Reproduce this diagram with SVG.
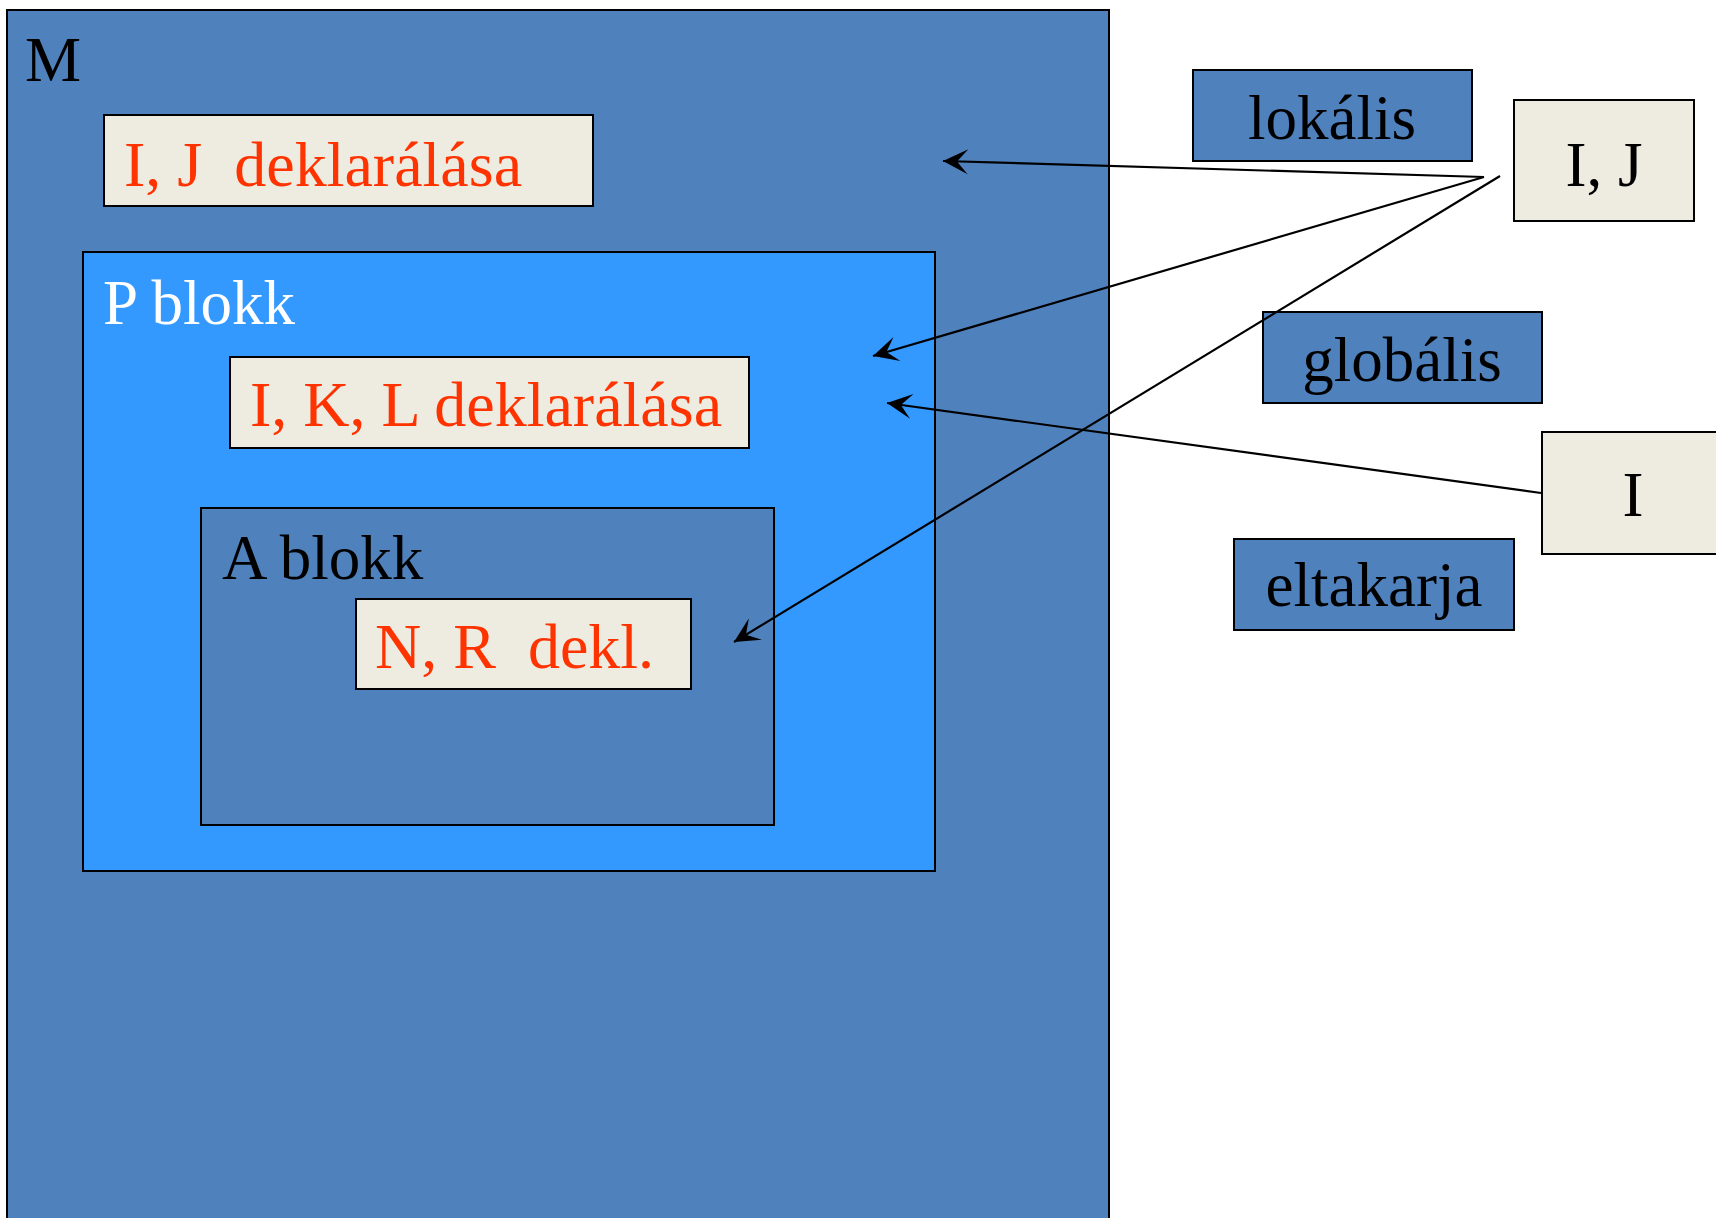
<svg xmlns="http://www.w3.org/2000/svg" width="1716" height="1218" viewBox="0 0 1716 1218">
<style>
.box{stroke:#000;stroke-width:2}
.m{fill:#4F81BD}
.p{fill:#3399FF}
.b{fill:#EEEBE0}
.t{font-family:"Liberation Serif","Times New Roman",serif;font-size:63px;white-space:pre}
.red{fill:#FF3300;font-size:64px}
.blk{fill:#000}
.wht{fill:#fff}
.c{text-anchor:middle}
.conn{stroke:#000;stroke-width:2.2;fill:none;marker-end:url(#ah)}
</style>
<defs>
<marker id="ah" markerUnits="userSpaceOnUse" viewBox="-26 -13 27 26" refX="0" refY="0" markerWidth="27" markerHeight="26" orient="auto">
<path d="M0,0 L-25,-12.5 L-14,0 L-25,12.5 Z" fill="#000"/>
</marker>
</defs>
<rect width="1716" height="1218" fill="#fff"/>
<g id="M">
<rect class="box m" x="7" y="10" width="1102" height="1230"/>
<text class="t blk" x="25" y="81">M</text>
</g>
<g id="IJdecl">
<rect class="box b" x="104" y="115" width="489" height="91"/>
<text class="t red" x="124" y="186" xml:space="preserve">I, J  deklarálása</text>
</g>
<g id="P">
<rect class="box p" x="83" y="252" width="852" height="619"/>
<text class="t wht" x="103" y="324">P blokk</text>
</g>
<g id="IKLdecl">
<rect class="box b" x="230" y="357" width="519" height="91"/>
<text class="t red" x="250" y="426">I, K, L deklarálása</text>
</g>
<g id="A">
<rect class="box m" x="201" y="508" width="573" height="317"/>
<text class="t blk" x="222" y="579">A blokk</text>
</g>
<g id="NRdecl">
<rect class="box b" x="356" y="599" width="335" height="90"/>
<text class="t red" x="375" y="668" xml:space="preserve">N, R  dekl.</text>
</g>
<g id="lokalis">
<rect class="box m" x="1193" y="70" width="279" height="91"/>
<text class="t blk c" x="1332" y="139">lokális</text>
</g>
<g id="IJ">
<rect class="box b" x="1514" y="100" width="180" height="121"/>
<text class="t blk c" x="1604" y="186">I, J</text>
</g>
<g id="globalis">
<rect class="box m" x="1263" y="312" width="279" height="91"/>
<text class="t blk c" x="1402" y="381">globális</text>
</g>
<g id="I">
<rect class="box b" x="1542" y="432" width="190" height="122"/>
<text class="t blk c" x="1633" y="516">I</text>
</g>
<g id="eltakarja">
<rect class="box m" x="1234" y="539" width="280" height="91"/>
<text class="t blk c" x="1374" y="606">eltakarja</text>
</g>
<g id="connectors">
<line class="conn" x1="1484" y1="177" x2="943" y2="161"/>
<line class="conn" x1="1484" y1="177" x2="873" y2="356"/>
<line class="conn" x1="1500" y1="176" x2="734" y2="642"/>
<line class="conn" x1="1541" y1="493" x2="887" y2="403"/>
</g>
</svg>
